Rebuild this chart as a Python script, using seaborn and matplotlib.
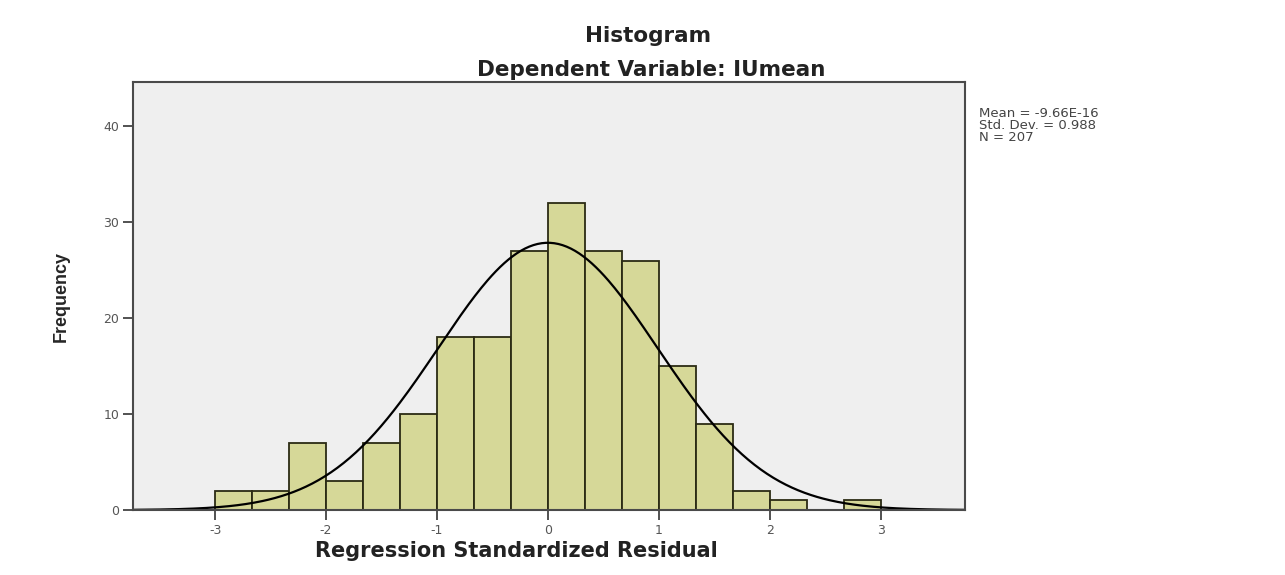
import numpy as np
import pandas as pd
import matplotlib
matplotlib.use("Agg")
import matplotlib.pyplot as plt
import seaborn as sns

# bin edges (width 1/3) and frequencies
bin_edges = [round(-3 + i / 3, 6) for i in range(19)]
counts = [2, 2, 7, 3, 7, 10, 18, 18, 27, 32, 27, 26, 15, 9, 2, 1, 0, 1]
res_mean = -9.66e-16
res_sd = 0.988
n_obs = 207
x_ticks = [-3, -2, -1, 0, 1, 2, 3]
y_ticks = [0, 10, 20, 30, 40]

edges = np.array(bin_edges)
centers = (edges[:-1] + edges[1:]) / 2
df = pd.DataFrame({"resid": centers, "freq": counts})

sns.set_style("white", {"xtick.bottom": True, "ytick.left": True})
plt.rcParams['font.family'] = ['DejaVu Sans']
plt.rcParams['axes.unicode_minus'] = False

fig = plt.figure(figsize=(12.85, 5.75), dpi=100)
ax = fig.add_axes([0.1035, 0.113, 0.6475, 0.744])
ax.set_facecolor("#efefef")

sns.histplot(data=df, x="resid", weights="freq", bins=bin_edges,
             color="#d6d898", edgecolor="#2b2b14", linewidth=1.3,
             alpha=1.0, ax=ax)

# normal curve scaled to counts
xs = np.linspace(-3.74, 3.76, 400)
bw = edges[1] - edges[0]
ys = n_obs * bw / (res_sd * np.sqrt(2 * np.pi)) * np.exp(-0.5 * ((xs - res_mean) / res_sd) ** 2)
sns.lineplot(x=xs, y=ys, color="black", linewidth=1.6, ax=ax)

ax.set_xlim(-3.74, 3.76)
ax.set_ylim(0, 44.6)
ax.set_xticks(x_ticks)
ax.set_yticks(y_ticks)
ax.tick_params(axis="both", which="major", direction="out", length=7, width=1.2,
               color="#333333", labelsize=9, labelcolor="#555555",
               bottom=True, left=True, pad=3)
for s in ax.spines.values():
    s.set_color("#4a4a4a")
    s.set_linewidth(1.5)

ax.set_xlabel("")
ax.set_ylabel("Frequency", fontsize=13, fontweight="bold", family="Liberation Sans", labelpad=24)

fig.text(516 / 1285, 1 - 551 / 575, "Regression Standardized Residual", ha="center", va="center",
         fontsize=15, fontweight="bold", color="#222222")
fig.text(648 / 1285, 1 - 36 / 575, "Histogram", ha="center", va="center",
         fontsize=15.5, fontweight="bold", color="#222222")
fig.text(651 / 1285, 1 - 70 / 575, "Dependent Variable: IUmean", ha="center", va="center",
         fontsize=15.5, fontweight="bold", color="#222222")

fig.text(979 / 1285, 1 - 107 / 575,
         f"Mean = {res_mean:.2E}\nStd. Dev. = {res_sd}\nN = {n_obs}",
         ha="left", va="top", fontsize=9.5, color="#444444", linespacing=0.88)

fig.savefig("out.png", dpi=100, facecolor="white")
